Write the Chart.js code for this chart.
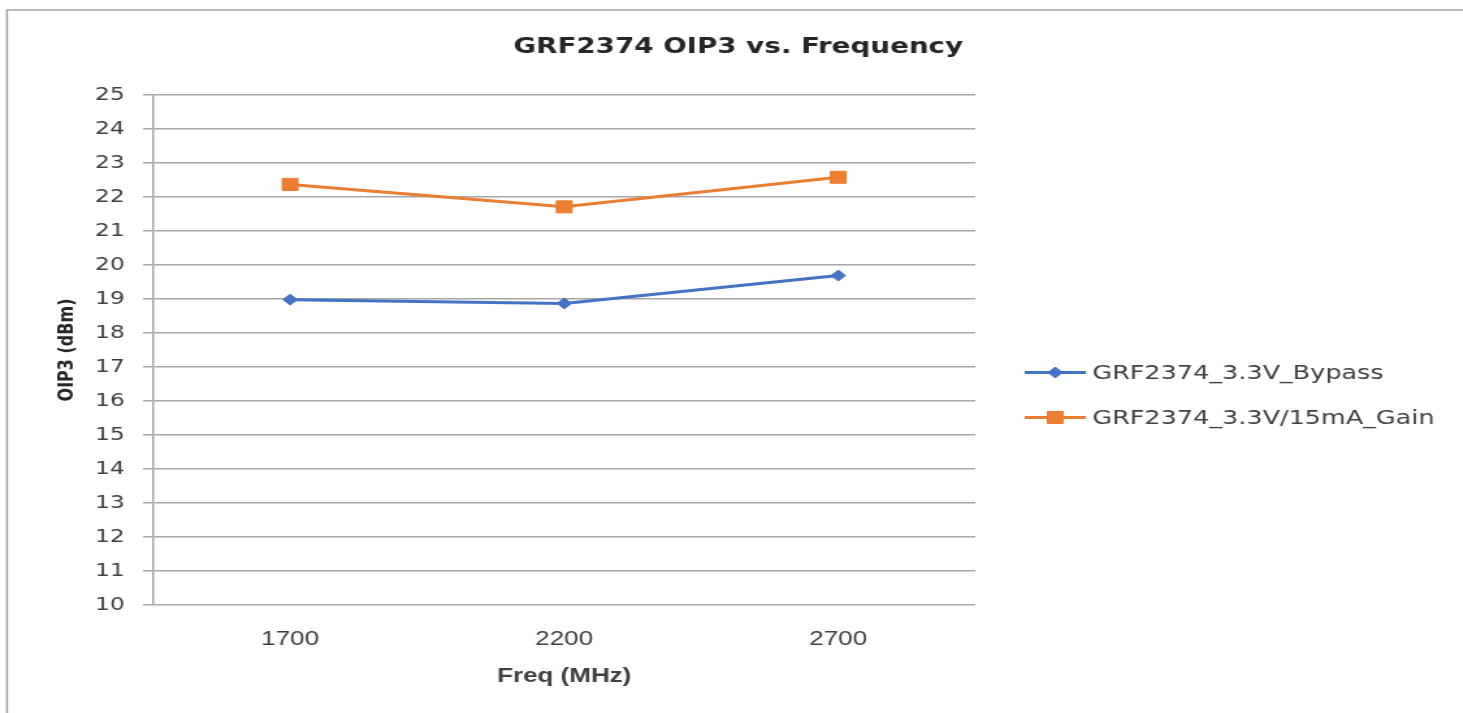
<!DOCTYPE html>
<html><head><meta charset="utf-8">
<script src="https://cdn.jsdelivr.net/npm/chart.js@4.4.1/dist/chart.umd.min.js"></script>
<style>
html,body{margin:0;padding:0;background:#fff;overflow:hidden;width:1463px;height:713px;}
#wrap{position:absolute;left:0;top:0;width:1125px;height:713px;transform:scaleX(1.3004);transform-origin:0 0;}
canvas{display:block;}
</style></head><body>
<div id="wrap"><canvas id="c" width="1125" height="713"></canvas></div>
<script>
// ---- data ----
const chartTitle = 'GRF2374 OIP3 vs. Frequency';
const xAxisTitle = 'Freq (MHz)';
const yAxisTitle = 'OIP3 (dBm)';
const frequencies = ['1700', '2200', '2700'];
const bypassLabel = 'GRF2374_3.3V_Bypass';
const bypassValues = [18.98, 18.87, 19.69];
const gainLabel = 'GRF2374_3.3V/15mA_Gain';
const gainValues = [22.37, 21.71, 22.58];
const yMin = 10, yMax = 25, yStep = 1;

// ---- styles ----
const BLUE = '#4472C4', ORANGE = '#ED7D31', GRID = '#a6a6a6';
const TXT = '#404040';

const frame = {
  id: 'frame',
  beforeDraw(chart) {
    const ctx = chart.ctx;
    ctx.save();
    ctx.fillStyle = '#fff';
    ctx.fillRect(0, 0, chart.width, chart.height);
    ctx.strokeStyle = '#a0a0a0';
    ctx.lineWidth = 1.5;
    ctx.beginPath();
    ctx.moveTo(5.4, chart.height);
    ctx.lineTo(5.4, 10);
    ctx.lineTo(chart.width, 10);
    ctx.stroke();
    // chart title, centred on the whole chart frame
    ctx.fillStyle = '#262626';
    ctx.font = 'bold 21.3px "DejaVu Sans"';
    ctx.textAlign = 'center';
    ctx.textBaseline = 'middle';
    ctx.fillText(chartTitle, 567.7, 47);
    ctx.restore();
  }
};

function marker(ctx, style, x, y, r, color) {
  ctx.fillStyle = color; ctx.strokeStyle = color; ctx.lineWidth = 1;
  ctx.beginPath();
  if (style === 'rectRot') {
    ctx.moveTo(x - r, y); ctx.lineTo(x, y - r); ctx.lineTo(x + r, y); ctx.lineTo(x, y + r);
    ctx.closePath();
  } else {
    const s = Math.SQRT1_2 * r;
    ctx.rect(x - s, y - s, 2 * s, 2 * s);
  }
  ctx.fill(); ctx.stroke();
}

const sideLegend = {
  id: 'sideLegend',
  afterDraw(chart) {
    const ctx = chart.ctx;
    ctx.save();
    chart.data.datasets.forEach((ds, i) => {
      const y = 372.5 + 45 * i;
      ctx.strokeStyle = ds.borderColor; ctx.lineWidth = 3;
      ctx.beginPath(); ctx.moveTo(788, y); ctx.lineTo(835, y); ctx.stroke();
      marker(ctx, ds.pointStyle, 811.5, y, ds.pointRadius, ds.borderColor);
      ctx.fillStyle = TXT;
      ctx.font = '19.6px "DejaVu Sans"';
      ctx.textAlign = 'left'; ctx.textBaseline = 'middle';
      ctx.fillText(ds.label, 840, y + 1);
    });
    ctx.restore();
  }
};

new Chart(document.getElementById('c'), {
  type: 'line',
  data: {
    labels: frequencies,
    datasets: [
      { label: bypassLabel, data: bypassValues, borderColor: BLUE, backgroundColor: BLUE,
        borderWidth: 3, pointStyle: 'rectRot', pointRadius: 5.5, pointBorderWidth: 1, tension: 0 },
      { label: gainLabel, data: gainValues, borderColor: ORANGE, backgroundColor: ORANGE,
        borderWidth: 3, pointStyle: 'rect', pointRadius: 8.5, pointBorderWidth: 1, tension: 0 }
    ]
  },
  options: {
    responsive: false,
    devicePixelRatio: 1,
    animation: false,
    events: [],
    layout: { padding: { left: 10, right: 375, top: 95, bottom: 0 } },
    plugins: {
      legend: { display: false },
      tooltip: { enabled: false },
      title: { display: false }
    },
    scales: {
      x: {
        offset: true,
        grid: { display: false, drawTicks: false },
        border: { display: false },
        ticks: { color: TXT, padding: 22.5, font: { family: '"Liberation Sans"', size: 20, lineHeight: 1.2 } },
        title: { display: true, text: xAxisTitle, color: TXT,
          font: { family: '"Liberation Sans"', size: 20, weight: 'bold', lineHeight: 1.2 },
          padding: { top: 0, bottom: 25 } },
        afterFit(s) { s.height = 108; }
      },
      y: {
        min: yMin, max: yMax,
        grid: { color: GRID, lineWidth: 1.5, tickLength: 7.7, drawTicks: true },
        border: { display: true, color: GRID, width: 1.5 },
        ticks: { stepSize: yStep, color: TXT, padding: 14, font: { family: '"DejaVu Sans"', size: 18, lineHeight: 1.2 } },
        title: { display: true, text: yAxisTitle, color: '#262626',
          font: { family: '"DejaVu Sans"', size: 16, weight: 'bold', lineHeight: 1.2 },
          padding: { top: 31.9, bottom: 0 } },
        afterFit(s) { s.width = 107.7; }
      }
    }
  },
  plugins: [frame, sideLegend]
});
</script>
</body></html>
